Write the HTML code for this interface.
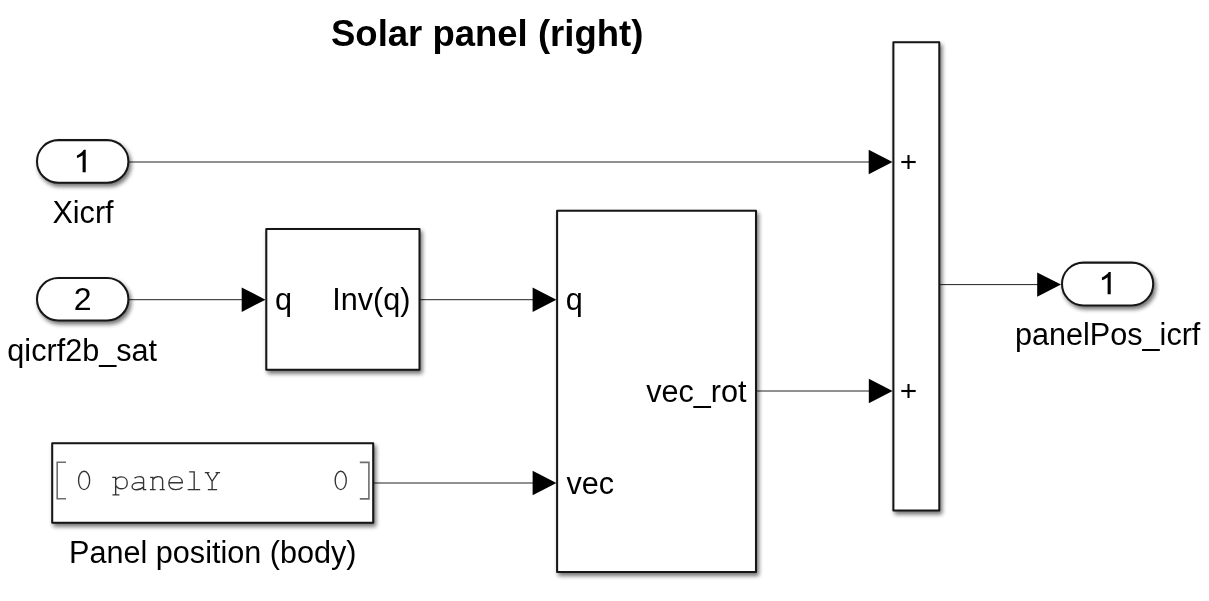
<!DOCTYPE html>
<html><head><meta charset="utf-8">
<style>
html,body{margin:0;padding:0;background:#fff;}
body{width:1209px;height:601px;overflow:hidden;}
svg{display:block;will-change:transform;}
text{font-family:"Liberation Sans",sans-serif;fill:#000;}
</style></head><body>
<svg width="1209" height="601" viewBox="0 0 1209 601">
<defs>
<filter id="sh" x="-10%" y="-10%" width="130%" height="130%">
<feGaussianBlur in="SourceAlpha" stdDeviation="2.0"/>
<feOffset dx="2.4" dy="2.5" result="b"/>
<feComponentTransfer><feFuncA type="linear" slope="0.55"/></feComponentTransfer>
<feMerge><feMergeNode/><feMergeNode in="SourceGraphic"/></feMerge>
</filter>
</defs>
<text x="331" y="45.7" font-size="36.5" font-weight="bold">Solar panel (right)</text>
<g stroke="#222" stroke-width="1" fill="none">
<line x1="129" y1="162.0" x2="870" y2="162.0"/>
<line x1="129" y1="299.7" x2="244" y2="299.7"/>
<line x1="420" y1="299.7" x2="534" y2="299.7"/>
<line x1="374" y1="483.0" x2="534" y2="483.0"/>
<line x1="757" y1="391.0" x2="870" y2="391.0"/>
<line x1="940" y1="284.6" x2="1039" y2="284.6"/>
</g>
<g fill="#000">
<path d="M868.70,149.80 L892.50,162.00 L868.70,174.20Z"/>
<path d="M241.70,287.50 L265.50,299.70 L241.70,311.90Z"/>
<path d="M532.60,287.50 L556.40,299.70 L532.60,311.90Z"/>
<path d="M532.60,470.80 L556.40,483.00 L532.60,495.20Z"/>
<path d="M868.80,378.80 L892.60,391.00 L868.80,403.20Z"/>
<path d="M1037.20,272.40 L1061.00,284.60 L1037.20,296.80Z"/>
</g>
<g stroke="#161616" stroke-width="2.05" stroke-linejoin="round" fill="#fff" filter="url(#sh)">
<rect x="37" y="140.1" width="91.4" height="42.7" rx="21.35" ry="21.35"/>
<rect x="37" y="278" width="91.4" height="42.5" rx="21.25" ry="21.25"/>
<rect x="1062" y="262.6" width="91.2" height="42.8" rx="21.4" ry="21.4"/>
<rect x="266.3" y="229" width="153.2" height="140.7"/>
<rect x="557.1" y="210.7" width="198.9" height="361.2"/>
<rect x="52.2" y="443.2" width="321" height="79.5"/>
<rect x="893.4" y="42.3" width="45.9" height="468.3"/>
</g>
<path d="M770 0H565V1120Q500 1062 400 1008Q300 955 192 925V1100Q350 1170 470 1276Q590 1377 640 1472H770Z" transform="translate(74,172.2) scale(0.01523,-0.01523)"/>
<path d="M770 0H565V1120Q500 1062 400 1008Q300 955 192 925V1100Q350 1170 470 1276Q590 1377 640 1472H770Z" transform="translate(1099,294.3) scale(0.01523,-0.01523)"/>
<text x="82.6" y="310" font-size="32" text-anchor="middle">2</text>
<g font-size="30.6" text-anchor="middle">
<text x="83" y="223">Xicrf</text>
<text x="82.2" y="360.6">qicrf2b_sat</text>
<text x="1107.7" y="344.9">panelPos_icrf</text>
<text x="212.8" y="563.1">Panel position (body)</text>
</g>
<g font-size="30.6">
<text x="275" y="309.9">q</text>
<text x="410.5" y="309.9" text-anchor="end">Inv(q)</text>
<text x="565.8" y="309.6">q</text>
<text x="566.5" y="493.8">vec</text>
<text x="746.5" y="401.5" text-anchor="end">vec_rot</text>
</g>
<g stroke="#000" stroke-width="2.1">
<line x1="901.3" y1="162.0" x2="915.7" y2="162.0"/>
<line x1="908.5" y1="155.0" x2="908.5" y2="169.0"/>
<line x1="901.3" y1="391.0" x2="915.7" y2="391.0"/>
<line x1="908.5" y1="384.0" x2="908.5" y2="398.0"/>
</g>
<g stroke="#6e6e6e" stroke-width="1.6" fill="none">
<path d="M66,462.2 H57.2 V498.7 H66"/>
<path d="M359.8,462.4 H368.9 V498.9 H359.8"/>
</g>
<g fill="none" stroke="#333" stroke-width="1.35">
<path transform="translate(84.10,490.30)" d="M0,-19.05 C3.1,-19.05 5.55,-15 5.55,-9.85 C5.55,-4.7 3.1,-0.65 0,-0.65 C-3.1,-0.65 -5.55,-4.7 -5.55,-9.85 C-5.55,-15 -3.1,-19.05 0,-19.05Z"/>
<path transform="translate(120.76,490.30)" d="M-8.5,-12.9 H-5.1 V4.6 M-8.3,4.6 H-1.3 M-5.1,-10 C-4,-12.3 -2.3,-13.4 0.7,-13.4 C4,-13.4 6.5,-11 6.5,-7.4 C6.5,-3.8 4,-1.5 0.7,-1.5 C-2.3,-1.5 -4,-2.8 -5.1,-5"/>
<path transform="translate(139.09,490.30)" d="M-4.6,-12.2 C-3,-13.2 -1.2,-13.6 0.6,-13.6 C3,-13.6 4.5,-12.4 4.5,-10.2 V-0.6 H7.2 M4.5,-7.3 C2.5,-7.7 0.5,-7.8 -1.5,-7.6 C-5,-7.2 -7,-5.5 -7,-3.6 C-7,-1.6 -5,-0.5 -2.6,-0.5 C0.5,-0.5 3,-2 4.5,-3.6"/>
<path transform="translate(157.42,490.30)" d="M-7.3,-12.9 H-4.6 V-0.6 M-7.5,-0.6 H-1.8 M2.3,-0.6 H7.4 M-4.6,-10.6 C-3.4,-12.6 -1.5,-13.6 0.8,-13.6 C3.8,-13.6 5.2,-12 5.2,-9.2 V-0.6"/>
<path transform="translate(175.75,490.30)" d="M-6.9,-7.5 H6.6 C6.6,-11.3 3.8,-13.6 -0.2,-13.6 C-4.3,-13.6 -6.9,-10.8 -6.9,-7.2 C-6.9,-3.2 -4.1,-0.6 0,-0.6 C2.6,-0.6 5,-1.4 6.6,-3"/>
<path transform="translate(194.08,490.30)" d="M-4.9,-18.4 H0.1 V-0.6 M-6.4,-0.6 H6.1"/>
<path transform="translate(212.41,490.30)" d="M-7.6,-17.6 H-3 M3.1,-17.6 H7.7 M-5.4,-17.6 L-0.3,-9 L5.6,-17.6 M-0.3,-9 V-0.6 M-4.6,-0.6 H4.7"/>
<path transform="translate(340.72,490.30)" d="M0,-19.05 C3.1,-19.05 5.55,-15 5.55,-9.85 C5.55,-4.7 3.1,-0.65 0,-0.65 C-3.1,-0.65 -5.55,-4.7 -5.55,-9.85 C-5.55,-15 -3.1,-19.05 0,-19.05Z"/>

</g>
</svg>
</body></html>
